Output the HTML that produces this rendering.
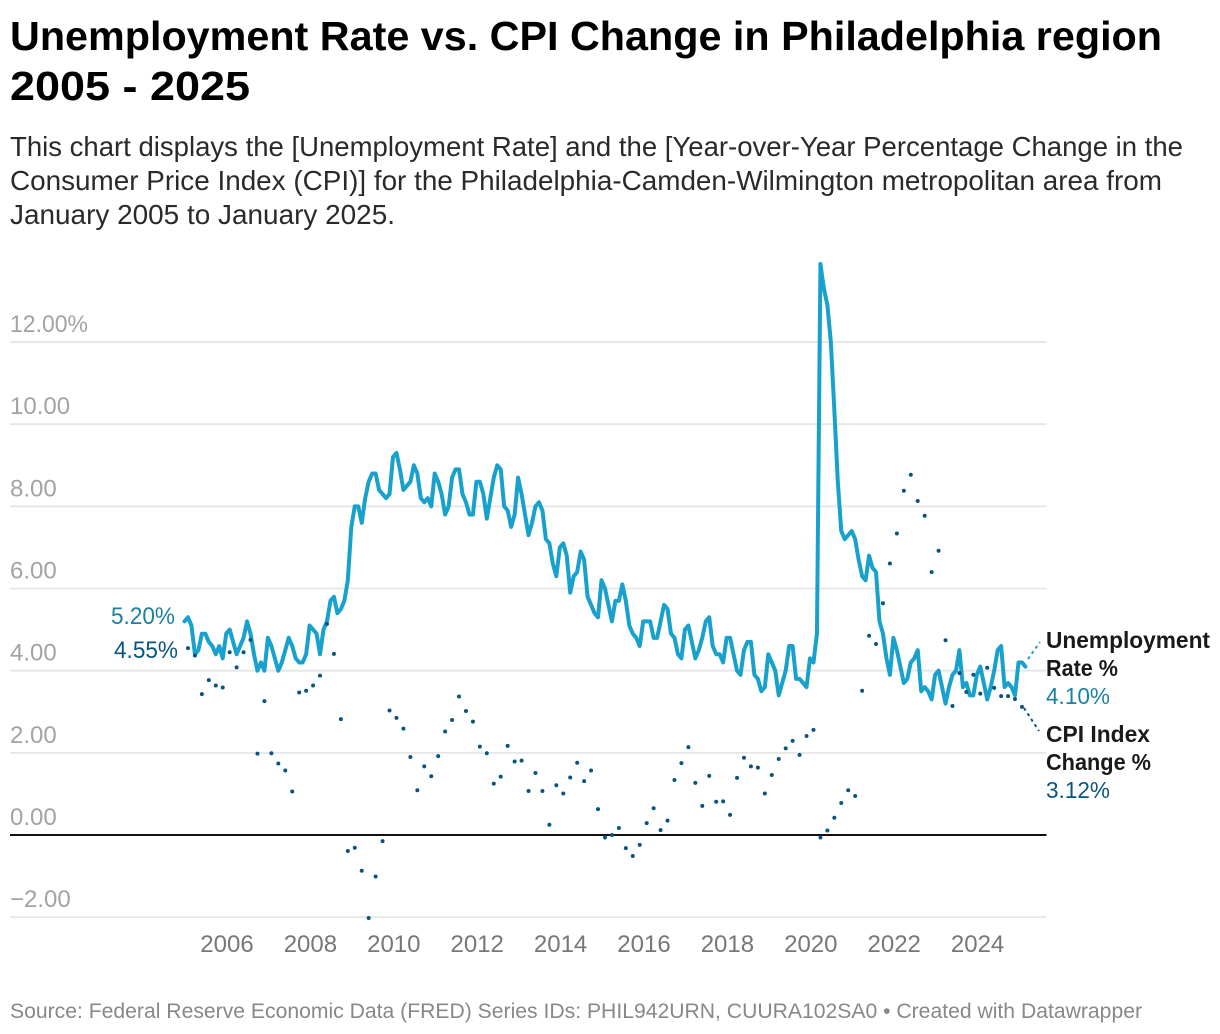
<!DOCTYPE html>
<html lang="en">
<head>
<meta charset="utf-8">
<title>Unemployment Rate vs. CPI Change in Philadelphia region</title>
<style>
  html, body { margin: 0; padding: 0; background: #fff; }
  #chart-root { display: block; width: 1220px; height: 1034px; font-family: "Liberation Sans", Arial, sans-serif; }
  text { font-family: "Liberation Sans", Arial, sans-serif; }
</style>
</head>
<body>
<svg id="chart-root" xmlns="http://www.w3.org/2000/svg" width="1220" height="1034" viewBox="0 0 1220 1034">
  <g>
    <text x="10" y="50" font-size="41" font-weight="700" fill="#000" textLength="1152" lengthAdjust="spacingAndGlyphs">Unemployment Rate vs. CPI Change in Philadelphia region</text>
    <text x="10" y="100" font-size="41" font-weight="700" fill="#000" textLength="240" lengthAdjust="spacingAndGlyphs">2005 - 2025</text>
    <text x="10" y="156" font-size="27.5" fill="#2a2a2a" textLength="1173" lengthAdjust="spacingAndGlyphs">This chart displays the [Unemployment Rate] and the [Year-over-Year Percentage Change in the</text>
    <text x="10" y="190" font-size="27.5" fill="#2a2a2a" textLength="1152" lengthAdjust="spacingAndGlyphs">Consumer Price Index (CPI)] for the Philadelphia-Camden-Wilmington metropolitan area from</text>
    <text x="10" y="224" font-size="27.5" fill="#2a2a2a" textLength="385" lengthAdjust="spacingAndGlyphs">January 2005 to January 2025.</text>
  </g>
  <g id="y-grid"></g>
  <g id="x-axis"></g>
  <path id="unemployment-line" fill="none" stroke="#18a1cd" stroke-width="4" stroke-linejoin="round" stroke-linecap="round"></path>
  <g id="cpi-dots"></g>
  <g>
    <text id="start-unemployment" x="175" y="624" font-size="24" fill="#1d81a2" text-anchor="end" textLength="64" lengthAdjust="spacingAndGlyphs"></text>
    <text id="start-cpi" x="178" y="658" font-size="24" fill="#09557f" text-anchor="end" textLength="64" lengthAdjust="spacingAndGlyphs"></text>
    <line x1="1028" y1="659" x2="1040" y2="642" stroke="#18a1cd" stroke-width="2" stroke-dasharray="3 3.5"></line>
    <line x1="1024" y1="708" x2="1039" y2="731" stroke="#09557f" stroke-width="2" stroke-dasharray="3 3.5"></line>
    <text x="1046" y="648" font-size="23" font-weight="700" fill="#1a1a1a" textLength="164" lengthAdjust="spacingAndGlyphs">Unemployment</text>
    <text x="1046" y="676" font-size="23" font-weight="700" fill="#1a1a1a" textLength="72" lengthAdjust="spacingAndGlyphs">Rate %</text>
    <text id="end-unemployment" x="1046" y="704" font-size="23.5" fill="#1d81a2" textLength="64" lengthAdjust="spacingAndGlyphs"></text>
    <text x="1046" y="742" font-size="23" font-weight="700" fill="#1a1a1a" textLength="104" lengthAdjust="spacingAndGlyphs">CPI Index</text>
    <text x="1046" y="770" font-size="23" font-weight="700" fill="#1a1a1a" textLength="105" lengthAdjust="spacingAndGlyphs">Change %</text>
    <text id="end-cpi" x="1046" y="798" font-size="23.5" fill="#09557f" textLength="64" lengthAdjust="spacingAndGlyphs"></text>
  </g>
  <text x="10" y="1018" font-size="21" fill="#888888" textLength="1132" lengthAdjust="spacingAndGlyphs">Source: Federal Reserve Economic Data (FRED) Series IDs: PHIL942URN, CUURA102SA0 • Created with Datawrapper</text>
</svg>
<script>
const yTickValues = [-2, 0, 2, 4, 6, 8, 10, 12];
const yTickLabels = ['\u22122.00', '0.00', '2.00', '4.00', '6.00', '8.00', '10.00', '12.00%'];
const xTickYears = [2006, 2008, 2010, 2012, 2014, 2016, 2018, 2020, 2022, 2024];
const startYear = 2005;

// Monthly unemployment rate, starting January 2005
const unemployment = [
  5.2,5.3,5.1,4.4,4.5,4.9,4.9,4.7,4.6,4.4,4.6,4.3,
  4.9,5.0,4.7,4.4,4.6,4.8,5.2,4.9,4.4,4.0,4.2,4.0,
  4.8,4.6,4.3,4.0,4.2,4.5,4.8,4.6,4.3,4.2,4.2,4.4,
  5.1,5.0,4.9,4.4,5.0,5.2,5.7,5.8,5.4,5.5,5.7,6.2,
  7.5,8.0,8.0,7.6,8.2,8.6,8.8,8.8,8.4,8.3,8.2,8.3,
  9.2,9.3,8.9,8.4,8.5,8.6,9.0,8.8,8.2,8.1,8.2,8.0,
  8.8,8.6,8.3,7.8,8.0,8.7,8.9,8.9,8.3,8.1,7.8,7.8,
  8.6,8.6,8.3,7.7,8.2,8.7,9.0,8.9,8.0,7.9,7.5,7.8,
  8.7,8.3,7.8,7.3,7.6,8.0,8.1,7.9,7.2,7.1,6.6,6.3,
  7.0,7.1,6.8,5.9,6.3,6.4,6.9,6.7,5.8,5.6,5.4,5.3,
  6.2,6.0,5.6,5.2,5.7,5.7,6.1,5.7,5.1,4.9,4.8,4.6,
  5.2,5.2,5.2,4.8,4.8,5.2,5.6,5.5,4.9,4.8,4.4,4.3,
  5.0,5.1,4.7,4.3,4.5,4.8,5.2,5.3,4.6,4.4,4.4,4.2,
  4.8,4.8,4.4,4.0,3.9,4.5,4.7,4.7,3.9,3.8,3.5,3.6,
  4.4,4.2,4.0,3.4,3.7,4.0,4.6,4.6,3.8,3.8,3.7,3.6,
  4.3,4.2,4.9,13.9,13.3,12.9,12.0,10.35,8.6,7.4,7.2,7.3,
  7.4,7.2,6.7,6.3,6.2,6.8,6.5,6.4,5.2,4.9,4.3,3.9,
  4.8,4.5,4.1,3.7,3.8,4.2,4.3,4.5,3.5,3.6,3.5,3.3,
  3.9,4.0,3.6,3.2,3.6,3.9,4.0,4.5,3.6,3.7,3.4,3.4,
  3.9,4.1,3.7,3.3,3.6,4.0,4.5,4.6,3.6,3.7,3.6,3.4,
  4.2,4.2,4.1
];

// Bi-monthly CPI year-over-year change, starting February 2005
const cpiChange = [
  4.55,4.37,3.43,3.77,3.64,3.59,4.45,4.08,4.45,4.75,1.98,3.26,
  1.99,1.74,1.57,1.06,3.47,3.51,3.64,3.88,5.14,4.41,2.82,-0.39,
  -0.31,-0.87,-2.02,-1.01,-0.15,3.03,2.85,2.59,1.90,1.09,1.67,1.43,
  1.92,2.52,2.80,3.37,3.02,2.76,2.15,1.99,1.25,1.42,2.17,1.79,
  1.81,1.07,1.51,1.07,0.25,1.21,1.01,1.40,1.76,1.31,1.57,0.63,
  -0.06,0.00,0.17,-0.32,-0.51,-0.24,0.29,0.65,0.12,0.35,1.34,1.75,
  2.14,1.27,0.71,1.44,0.81,0.82,0.49,1.39,1.88,1.67,1.64,1.01,
  1.46,1.85,2.11,2.29,1.95,2.41,2.56,-0.06,0.11,0.42,0.78,1.09,
  0.95,3.51,4.85,4.65,5.64,6.61,7.34,8.38,8.77,8.13,7.77,6.40,
  6.92,4.74,3.14,3.94,3.48,3.90,3.44,4.07,3.58,3.38,3.38,3.31,
  3.12
];

const SVG_NS = 'http://www.w3.org/2000/svg';
const plot = { left: 10, right: 1046.5, x0: 184.5, pxPerMonth: 3.475, y0: 835, pxPerUnit: 41.08 };
function xScale(month) { return plot.x0 + month * plot.pxPerMonth; }
function yScale(value) { return plot.y0 - value * plot.pxPerUnit; }
function pct(value) { return value.toFixed(2) + '%'; }

const gridGroup = document.getElementById('y-grid');
yTickValues.forEach(function (value, i) {
  const line = document.createElementNS(SVG_NS, 'line');
  
  
  line.setAttribute('x1', plot.left);
  line.setAttribute('x2', plot.right);
  line.setAttribute('y1', yScale(value));
  line.setAttribute('y2', yScale(value));
  line.setAttribute('stroke', value === 0 ? '#111111' : '#e6e6e6');
  line.setAttribute('stroke-width', value === 0 ? 2 : 1.8);
  gridGroup.appendChild(line);

  const label = document.createElementNS(SVG_NS, 'text');
  
  
  label.setAttribute('x', plot.left);
  label.setAttribute('y', yScale(value) - 10);
  label.setAttribute('font-size', '24');
  label.setAttribute('fill', '#a3a3a3');
  if (i === yTickValues.length - 1) {
    label.setAttribute('textLength', '78');
    label.setAttribute('lengthAdjust', 'spacingAndGlyphs');
  }
  label.textContent = yTickLabels[i];
  gridGroup.appendChild(label);
});

const xGroup = document.getElementById('x-axis');
xTickYears.forEach(function (year) {
  const label = document.createElementNS(SVG_NS, 'text');
  
  
  label.setAttribute('x', xScale((year - startYear) * 12) + 0.8);
  label.setAttribute('y', 952);
  label.setAttribute('font-size', '24');
  label.setAttribute('fill', '#777777');
  label.setAttribute('text-anchor', 'middle');
  label.textContent = year;
  xGroup.appendChild(label);
});

document.getElementById('unemployment-line').setAttribute('d', unemployment.map(function (value, i) {
  return (i === 0 ? 'M' : 'L') + xScale(i).toFixed(2) + ' ' + yScale(value).toFixed(2);
}).join(' '));

const dotsGroup = document.getElementById('cpi-dots');
cpiChange.forEach(function (value, i) {
  const dot = document.createElementNS(SVG_NS, 'circle');
  
  
  dot.setAttribute('cx', xScale(1 + i * 2));
  dot.setAttribute('cy', yScale(value));
  dot.setAttribute('r', 2);
  dot.setAttribute('fill', '#09557f');
  dotsGroup.appendChild(dot);
});

document.getElementById('start-unemployment').textContent = pct(unemployment[0]);
document.getElementById('start-cpi').textContent = pct(cpiChange[0]);
document.getElementById('end-unemployment').textContent = pct(unemployment[unemployment.length - 1]);
document.getElementById('end-cpi').textContent = pct(cpiChange[cpiChange.length - 1]);
</script>
</body>
</html>
